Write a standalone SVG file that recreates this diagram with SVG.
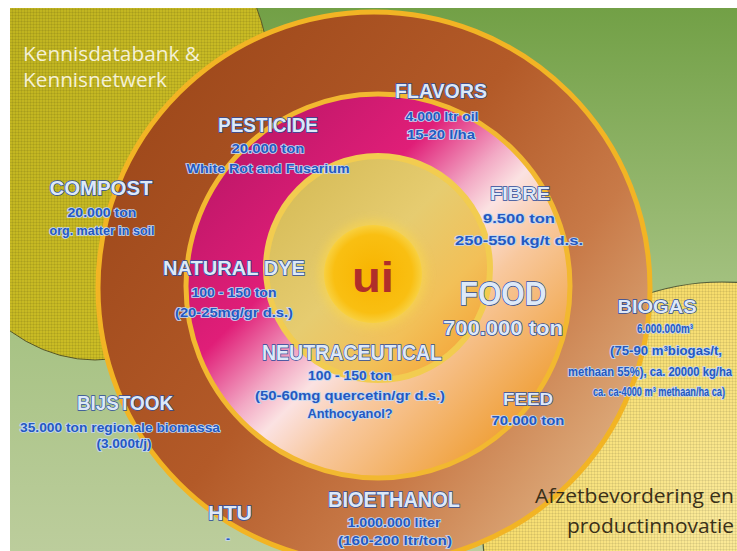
<svg xmlns="http://www.w3.org/2000/svg" width="737" height="551" viewBox="0 0 737 551">
<defs>
<style>
.t{font-family:"Liberation Sans",Arial,sans-serif;font-weight:bold;fill:#dde9f8;stroke:#2c4c9c;stroke-width:1.4;paint-order:stroke;text-anchor:middle}
.s{font-family:"Liberation Sans",Arial,sans-serif;font-weight:bold;font-size:12px;fill:#2458c0;stroke:#c4d8f2;stroke-width:1.6;paint-order:stroke;text-anchor:middle}
.k{font-family:"Open Sans","Liberation Sans",sans-serif;font-size:20px}
</style>
<linearGradient id="bg" x1="0" y1="0" x2="0" y2="1">
<stop offset="0" stop-color="#72a046"/><stop offset="0.5" stop-color="#a2c07e"/><stop offset="1" stop-color="#bccd9c"/>
</linearGradient>
<linearGradient id="olive" x1="0" y1="0" x2="1" y2="1">
<stop offset="0" stop-color="#b8ae1c"/><stop offset="1" stop-color="#d2c228"/>
</linearGradient>
<radialGradient id="yel" cx="0.5" cy="0.5" r="0.5">
<stop offset="0" stop-color="#fbea9a"/><stop offset="1" stop-color="#f6dc6a"/>
</radialGradient>
<linearGradient id="brown" x1="0.1" y1="0.2" x2="0.9" y2="0.8">
<stop offset="0" stop-color="#a04a1c"/><stop offset="0.45" stop-color="#b35a28"/><stop offset="0.75" stop-color="#c87a48"/><stop offset="1" stop-color="#dba676"/>
</linearGradient>
<linearGradient id="mag" x1="0.15" y1="0.15" x2="0.85" y2="0.85">
<stop offset="0" stop-color="#c2186a"/><stop offset="0.3" stop-color="#e01e78"/><stop offset="0.47" stop-color="#f2a8c4"/><stop offset="0.56" stop-color="#fbe2e2"/><stop offset="0.7" stop-color="#f8c89e"/><stop offset="1" stop-color="#f0a23e"/>
</linearGradient>
<linearGradient id="inner" x1="0.1" y1="0.1" x2="0.9" y2="0.9">
<stop offset="0" stop-color="#d6bc58"/><stop offset="0.45" stop-color="#e6cc70"/><stop offset="0.75" stop-color="#f2c058"/><stop offset="1" stop-color="#f4a63a"/>
</linearGradient>
<radialGradient id="sun" cx="0.5" cy="0.5" r="0.5">
<stop offset="0" stop-color="#f8b400"/><stop offset="0.8" stop-color="#f9bf12"/><stop offset="1" stop-color="#f8d040"/>
</radialGradient>
<pattern id="grid" width="3" height="3" patternUnits="userSpaceOnUse">
<path d="M0 0.5H3M0.5 0V3" stroke="#000" stroke-opacity="0.07" stroke-width="1" fill="none"/>
</pattern>
<filter id="blur" x="-30%" y="-30%" width="160%" height="160%"><feGaussianBlur stdDeviation="4"/></filter>
</defs>

<rect width="737" height="551" fill="#ffffff"/>
<g id="background">
<rect x="10" y="8" width="727" height="543" fill="url(#bg)"/>
<ellipse cx="95" cy="115" rx="180" ry="245" fill="url(#olive)" stroke="#5a5a2a" stroke-width="1"/>
<ellipse cx="95" cy="115" rx="180" ry="245" fill="url(#grid)"/>
<circle cx="722" cy="522" r="240" fill="url(#yel)" stroke="#55603c" stroke-width="1.2"/>
<circle cx="722" cy="522" r="240" fill="url(#grid)"/>
<rect x="0" y="0" width="737" height="8" fill="#ffffff"/>
<rect x="0" y="0" width="10" height="551" fill="#ffffff"/>
</g>

<g id="rings">
<circle cx="374" cy="288" r="276" fill="url(#brown)" stroke="#f2b424" stroke-width="5"/>
<circle cx="378" cy="286" r="192" fill="url(#mag)" stroke="#f2b830" stroke-width="5"/>
<circle cx="378" cy="268" r="112" fill="url(#inner)" stroke="#f2cc50" stroke-width="6"/>
<circle cx="373" cy="274" r="54" fill="#f8d450" opacity="0.7" filter="url(#blur)"/>
<circle cx="373" cy="274" r="49" fill="url(#sun)"/>
<text x="373" y="292" font-family="Liberation Sans,Arial,sans-serif" font-weight="bold" font-size="42" fill="#b02e2a" text-anchor="middle" textLength="42" lengthAdjust="spacingAndGlyphs">ui</text>
</g>

<g id="kennis">
<text class="k" x="23" y="61" fill="#f4f0d6" textLength="177" lengthAdjust="spacingAndGlyphs">Kennisdatabank &amp;</text>
<text class="k" x="23" y="87" fill="#f4f0d6" textLength="144" lengthAdjust="spacingAndGlyphs">Kennisnetwerk</text>
</g>

<g id="afzet">
<text class="k" x="535" y="503" fill="#3a3018" textLength="199" lengthAdjust="spacingAndGlyphs">Afzetbevordering en</text>
<text class="k" x="567" y="533" fill="#3a3018" textLength="167" lengthAdjust="spacingAndGlyphs">productinnovatie</text>
</g>

<g id="flavors">
<text class="t" x="441" y="98" font-size="20" textLength="92" lengthAdjust="spacingAndGlyphs">FLAVORS</text>
<text class="s" x="442" y="121" textLength="73" lengthAdjust="spacingAndGlyphs">4.000 ltr oil</text>
<text class="s" x="441" y="139" textLength="68" lengthAdjust="spacingAndGlyphs">15-20 l/ha</text>
</g>

<g id="pesticide">
<text class="t" x="268" y="132" font-size="20" textLength="100" lengthAdjust="spacingAndGlyphs">PESTICIDE</text>
<text class="s" x="268" y="153" textLength="73" lengthAdjust="spacingAndGlyphs">20.000 ton</text>
<text class="s" x="268" y="173" textLength="163" lengthAdjust="spacingAndGlyphs">White Rot and Fusarium</text>
</g>

<g id="compost">
<text class="t" x="101" y="195" font-size="20" textLength="103" lengthAdjust="spacingAndGlyphs">COMPOST</text>
<text class="s" x="102" y="217" textLength="69" lengthAdjust="spacingAndGlyphs">20.000 ton</text>
<text class="s" x="102" y="235" textLength="105" lengthAdjust="spacingAndGlyphs">org. matter in soil</text>
</g>

<g id="fibre">
<text class="t" x="520" y="200" font-size="18" textLength="60" lengthAdjust="spacingAndGlyphs">FIBRE</text>
<text class="s" x="519" y="223" textLength="72" lengthAdjust="spacingAndGlyphs">9.500 ton</text>
<text class="s" x="519" y="245" textLength="128" lengthAdjust="spacingAndGlyphs">250-550 kg/t d.s.</text>
</g>

<g id="naturaldye">
<text class="t" x="234" y="275" font-size="20" textLength="142" lengthAdjust="spacingAndGlyphs">NATURAL DYE</text>
<text class="s" x="234" y="297" textLength="85" lengthAdjust="spacingAndGlyphs">100 - 150 ton</text>
<text class="s" x="234" y="317" textLength="118" lengthAdjust="spacingAndGlyphs">(20-25mg/gr d.s.)</text>
</g>

<g id="food">
<text class="t" x="503" y="305" font-size="34" textLength="87" lengthAdjust="spacingAndGlyphs">FOOD</text>
<text class="t" x="503" y="335" font-size="20" textLength="120" lengthAdjust="spacingAndGlyphs">700.000 ton</text>
</g>

<g id="biogas">
<text class="t" x="657" y="313" font-size="18" textLength="79" lengthAdjust="spacingAndGlyphs">BIOGAS</text>
<text class="s" x="665" y="333" textLength="56" lengthAdjust="spacingAndGlyphs">6.000.000m³</text>
<text class="s" x="666" y="355" textLength="112" lengthAdjust="spacingAndGlyphs">(75-90 m³biogas/t,</text>
<text class="s" x="650" y="376" textLength="164" lengthAdjust="spacingAndGlyphs">methaan 55%), ca. 20000 kg/ha</text>
<text class="s" x="659" y="396" textLength="132" lengthAdjust="spacingAndGlyphs">ca. ca-4000 m³ methaan/ha ca)</text>
</g>

<g id="neutraceutical">
<text class="t" x="352" y="360" font-size="22" textLength="180" lengthAdjust="spacingAndGlyphs">NEUTRACEUTICAL</text>
<text class="s" x="350" y="380" textLength="84" lengthAdjust="spacingAndGlyphs">100 - 150 ton</text>
<text class="s" x="350" y="400" textLength="190" lengthAdjust="spacingAndGlyphs">(50-60mg quercetin/gr d.s.)</text>
<text class="s" x="350" y="418" textLength="85" lengthAdjust="spacingAndGlyphs">Anthocyanol?</text>
</g>

<g id="feed">
<text class="t" x="528" y="405" font-size="17" textLength="50" lengthAdjust="spacingAndGlyphs">FEED</text>
<text class="s" x="528" y="425" textLength="73" lengthAdjust="spacingAndGlyphs">70.000 ton</text>
</g>

<g id="bijstook">
<text class="t" x="125" y="410" font-size="20" textLength="96" lengthAdjust="spacingAndGlyphs">BIJSTOOK</text>
<text class="s" x="120" y="432" textLength="200" lengthAdjust="spacingAndGlyphs">35.000 ton regionale biomassa</text>
<text class="s" x="124" y="448" textLength="55" lengthAdjust="spacingAndGlyphs">(3.000t/j)</text>
</g>

<g id="htu">
<text class="t" x="230" y="520" font-size="20" textLength="44" lengthAdjust="spacingAndGlyphs">HTU</text>
<text class="s" x="228" y="543">-</text>
</g>

<g id="bioethanol">
<text class="t" x="394" y="507" font-size="22" textLength="132" lengthAdjust="spacingAndGlyphs">BIOETHANOL</text>
<text class="s" x="394" y="527" textLength="93" lengthAdjust="spacingAndGlyphs">1.000.000 liter</text>
<text class="s" x="395" y="545" textLength="114" lengthAdjust="spacingAndGlyphs">(160-200 ltr/ton)</text>
</g>
<g id="connectors"/>
</svg>
